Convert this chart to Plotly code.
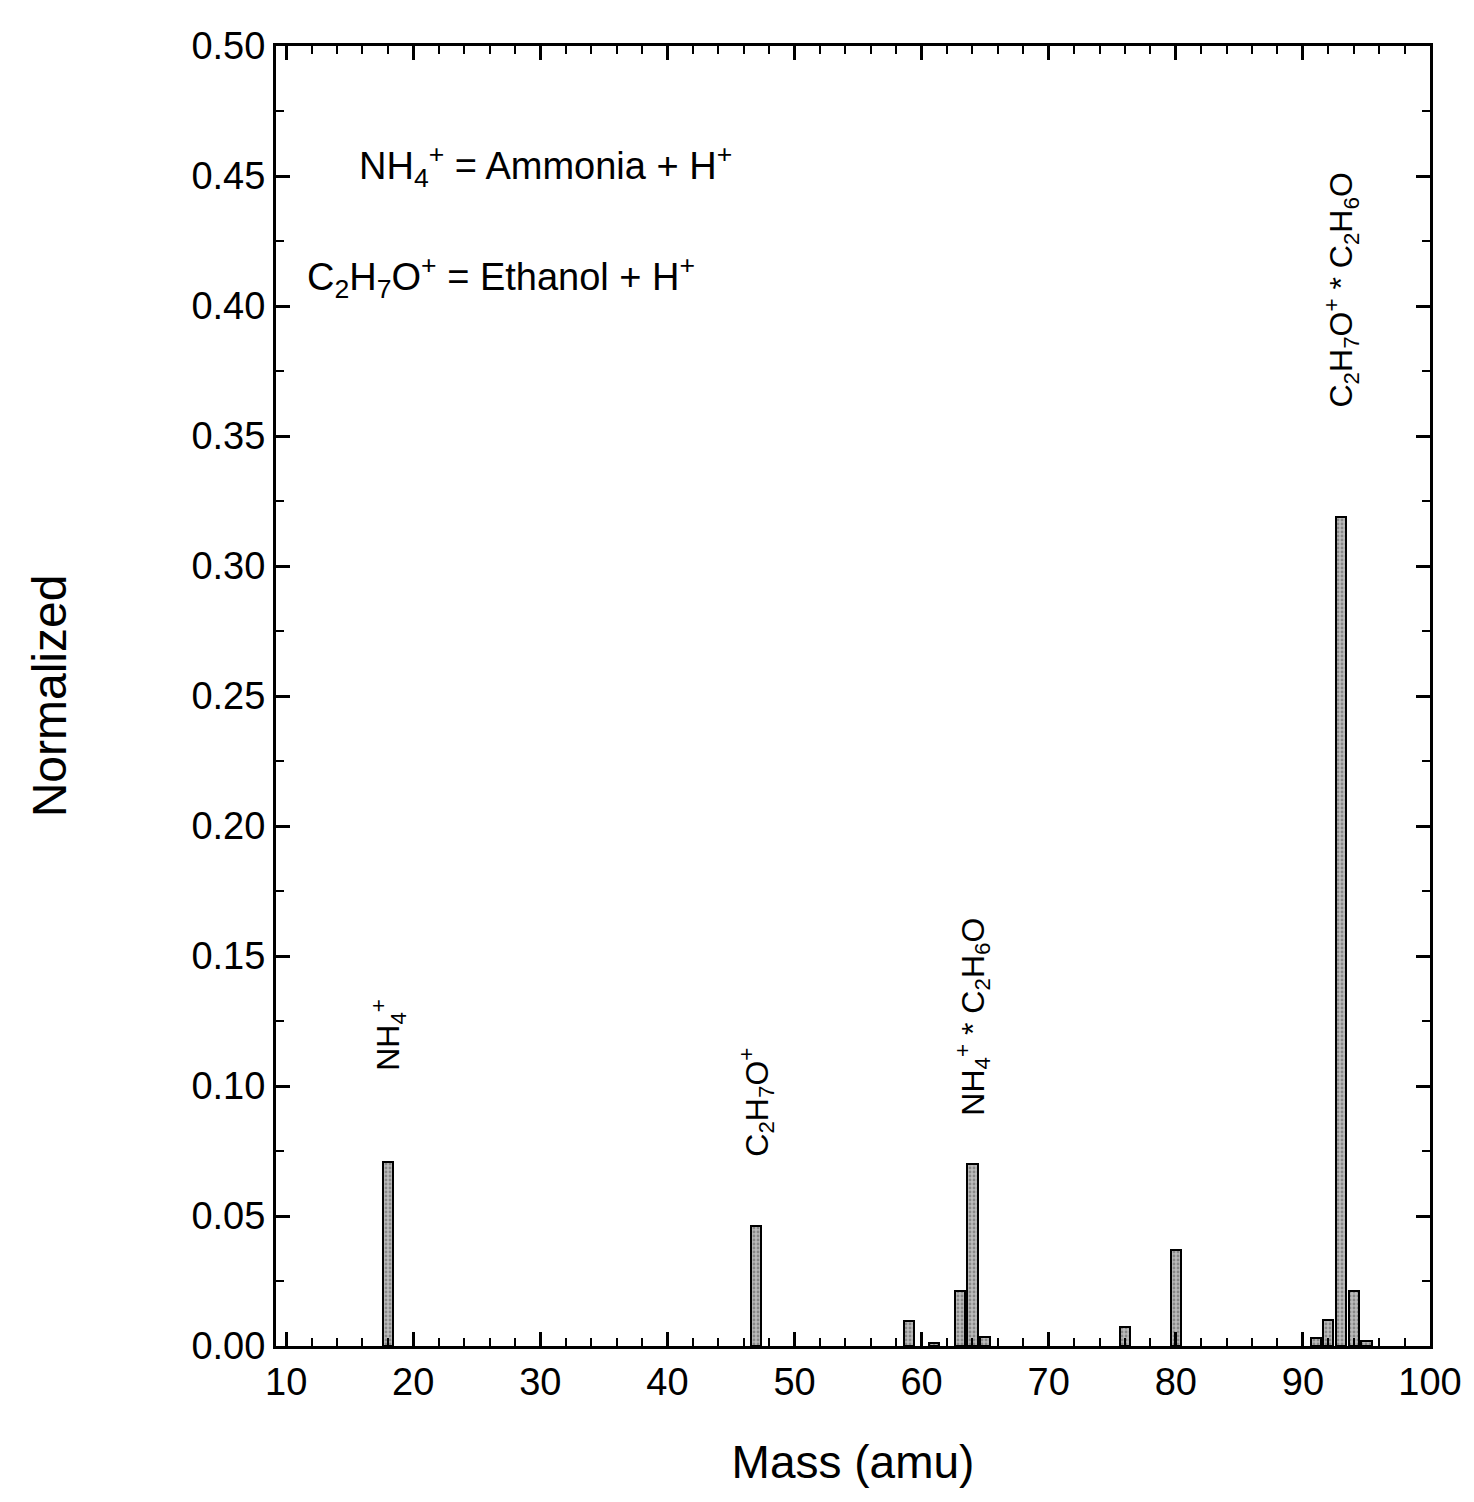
import plotly.graph_objects as go

# bar positions (amu) and normalized intensities
mass = [18, 47, 59, 61, 63, 64, 65, 76, 80, 91, 92, 93, 94, 95]
intensity = [0.0706, 0.046, 0.0095, 0.001, 0.021, 0.070, 0.0035, 0.0075, 0.037, 0.003, 0.010, 0.319, 0.021, 0.002]

# peak labels (x, y, text)
peak_x = [18, 47, 64, 93]
peak_y = [0.105, 0.072, 0.088, 0.360]
peak_text = ["NH<sub>4</sub><sup>+</sup>", "C<sub>2</sub>H<sub>7</sub>O<sup>+</sup>",
             "NH<sub>4</sub><sup>+</sup> * C<sub>2</sub>H<sub>6</sub>O",
             "C<sub>2</sub>H<sub>7</sub>O<sup>+</sup> * C<sub>2</sub>H<sub>6</sub>O"]

fig = go.Figure()
fig.add_trace(go.Bar(
    x=mass, y=intensity, width=0.8,
    marker=dict(color="#bbbbbb", line=dict(color="black", width=2),
                pattern=dict(shape=".", fgcolor="#555555", size=4, solidity=0.4)),
    showlegend=False,
))

for x, y, t in zip(peak_x, peak_y, peak_text):
    fig.add_annotation(x=x, y=y, text=t, textangle=-90, showarrow=False,
                       yanchor="bottom", font=dict(size=32, color="black"))

fig.add_annotation(x=0.07, y=0.93, xref="paper", yref="paper", xanchor="left",
                   text="NH<sub>4</sub><sup>+</sup> = Ammonia + H<sup>+</sup>",
                   showarrow=False, font=dict(size=38, color="black"))
fig.add_annotation(x=0.025, y=0.845, xref="paper", yref="paper", xanchor="left",
                   text="C<sub>2</sub>H<sub>7</sub>O<sup>+</sup> = Ethanol + H<sup>+</sup>",
                   showarrow=False, font=dict(size=38, color="black"))

axis_common = dict(showline=True, linecolor="black", linewidth=3, mirror="allticks",
                   ticks="inside", ticklen=14, tickwidth=3, tickcolor="black",
                   showgrid=False, zeroline=False,
                   tickfont=dict(size=38, color="black"))
fig.update_xaxes(range=[9.2, 100], tickvals=list(range(10, 101, 10)),
                 minor=dict(dtick=2, ticks="inside", ticklen=8, tickwidth=2, tickcolor="black"),
                 title=dict(text="Mass (amu)", font=dict(size=46, color="black"), standoff=45),
                 **axis_common)
fig.update_yaxes(range=[0, 0.5], dtick=0.05, tickformat=".2f",
                 minor=dict(dtick=0.025, ticks="inside", ticklen=8, tickwidth=2, tickcolor="black"),
                 title=dict(text="Normalized", font=dict(size=48, color="black"), standoff=110),
                 **axis_common)

fig.update_layout(width=1474, height=1502, plot_bgcolor="white", paper_bgcolor="white",
                  font=dict(family="Liberation Sans, Arial", color="black"),
                  margin=dict(l=268, r=52, t=38, b=164), bargap=0)

fig.write_html("out.html")
